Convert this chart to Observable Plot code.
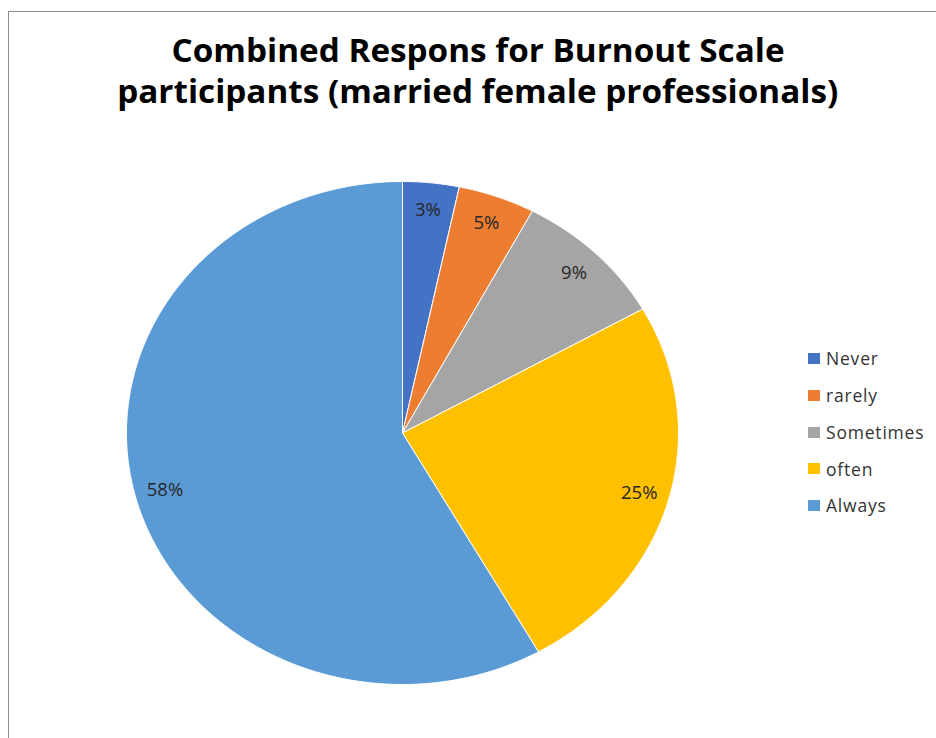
<!DOCTYPE html>
<html><head><meta charset="utf-8">
<script src="https://cdn.jsdelivr.net/npm/d3@7"></script>
<script src="https://cdn.jsdelivr.net/npm/@observablehq/plot@0.6"></script>
<style>
body{margin:0;background:#fff;}
#frame{position:relative;width:936px;height:738px;overflow:hidden;font-family:"Open Sans",sans-serif;}
#border{position:absolute;left:8px;top:11px;width:1000px;height:1000px;border-left:1.5px solid #8c8c8c;border-top:1.5px solid #8c8c8c;box-sizing:border-box;}
#title{position:relative;height:130px;}
.tl{position:absolute;left:8px;width:940px;text-align:center;font-weight:700;font-size:33px;line-height:33px;color:#000;white-space:nowrap;}
.tl span{display:inline-block;transform-origin:50% 50%;}
#chart{position:relative;}
.lg{position:absolute;left:808px;font-size:17.5px;line-height:20px;color:#333;white-space:nowrap;}
.lg i{position:absolute;left:0;top:4.9px;width:12px;height:11px;}
.lg span{position:absolute;left:18px;top:0;letter-spacing:0.8px;}
</style></head>
<body>
<div id="frame">
  <div id="border"></div>
  <div id="title"></div>
  <div id="chart"></div>
  <div id="legend"></div>
</div>
<script>
const categories = ["Never", "rarely", "Sometimes", "often", "Always"];
const values = [3.3, 4.5, 9, 25, 58.2];
const valueLabels = ["3%", "5%", "9%", "25%", "58%"];
const colors = ["#4472C4", "#ED7D31", "#A5A5A5", "#FFC000", "#5B9BD5"];
const titleLines = ["Combined Respons for Burnout Scale", "participants (married female professionals)"];

// title
const titleEl = document.getElementById("title");
const titleTops = [32.7, 73.7];
const titleWidths = [613, 721];
titleLines.forEach((t, i) => {
  const d = document.createElement("div");
  d.className = "tl";
  d.style.top = titleTops[i] + "px";
  const s = document.createElement("span");
  s.textContent = t;
  d.appendChild(s);
  titleEl.appendChild(d);
  const w = s.getBoundingClientRect().width;
  s.style.transform = `scaleX(${titleWidths[i] / w})`;
});

// pie geometry from data
const rows = categories.map((c, i) => ({category: c, value: values[i], label: valueLabels[i]}));
const arcs = d3.pie().sort(null).value(d => d.value)(rows);
const slices = arcs.flatMap(a => {
  const n = Math.max(2, Math.ceil((a.endAngle - a.startAngle) / (Math.PI / 360)));
  const pts = [{category: a.data.category, x: 0, y: 0}];
  for (let k = 0; k <= n; k++) {
    const t = a.startAngle + (a.endAngle - a.startAngle) * k / n;
    pts.push({category: a.data.category, x: Math.sin(t), y: Math.cos(t)});
  }
  pts.push({category: a.data.category, x: 0, y: 0});
  return pts;
});
const labelPts = arcs.map(a => {
  const t = (a.startAngle + a.endAngle) / 2;
  return {label: a.data.label, x: 0.89 * Math.sin(t), y: 0.89 * Math.cos(t)};
});

const plot = Plot.plot({
  width: 936,
  height: 608,
  marginLeft: 126,
  marginRight: 258,
  marginTop: 51,
  marginBottom: 54,
  style: {fontFamily: "Open Sans, sans-serif", background: "transparent"},
  x: {domain: [-1, 1], axis: null},
  y: {domain: [-1, 1], axis: null},
  color: {domain: categories, range: colors},
  marks: [
    Plot.line(slices, {x: "x", y: "y", z: "category", fill: "category", stroke: "white", strokeWidth: 1, strokeLinejoin: "round"}),
    Plot.text(labelPts, {x: "x", y: "y", text: "label", fontSize: 18.5, fill: "#262626", letterSpacing: "0.6px"})
  ]
});
document.getElementById("chart").appendChild(plot);

// legend
const color = plot.scale("color");
const legendEl = document.getElementById("legend");
categories.forEach((c, i) => {
  const center = 358.8 + 36.7 * i;
  const row = document.createElement("div");
  row.className = "lg";
  row.style.top = (center - 10.4) + "px";
  const sw = document.createElement("i");
  sw.style.background = color.apply(c);
  const tx = document.createElement("span");
  tx.textContent = c;
  row.appendChild(sw);
  row.appendChild(tx);
  legendEl.appendChild(row);
});
</script>
</body></html>
